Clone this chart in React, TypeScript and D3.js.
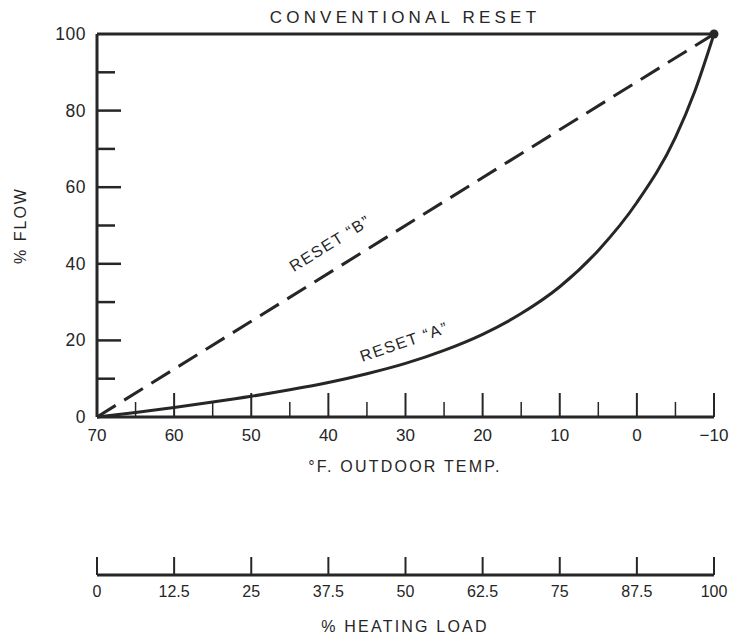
import { useEffect, useRef } from 'react'
import * as d3 from 'd3'

// Reset curves, % flow vs outdoor temperature (°F)
const tempsA = [70, 65, 60, 55, 50, 45, 40, 35, 30, 25, 20, 15, 10, 5, 0, -5, -7.5, -10]
const flowA = [0, 1.2, 2.5, 3.9, 5.4, 7.1, 9, 11.3, 14, 17.4, 21.6, 27, 34, 43.5, 56, 73, 85, 100]
const tempsB = [70, -10]
const flowB = [0, 100]
const tempsConv = [70, -10]
const flowConv = [100, 100]

const flowTicks = [0, 20, 40, 60, 80, 100]
const flowMinorTicks = [10, 30, 50, 70, 90]
const tempTicks = [70, 60, 50, 40, 30, 20, 10, 0, -10]
const tempMinorTicks = [65, 55, 45, 35, 25, 15, 5, -5]
const loadTicks = [0, 12.5, 25, 37.5, 50, 62.5, 75, 87.5, 100]

const W = 735
const H = 637
const FONT = '"Liberation Sans", Arial, sans-serif'
const INK = '#262626'

export default function App() {
  const svgRef = useRef<SVGSVGElement>(null)

  useEffect(() => {
    if (!svgRef.current) return
    const svg = d3.select(svgRef.current)
    svg.selectAll('*').remove()

    const x = d3.scaleLinear().domain([70, -10]).range([97, 714])
    const y = d3.scaleLinear().domain([0, 100]).range([417, 34])
    const load = d3.scaleLinear().domain([0, 100]).range([97, 714])
    const axisY = 575

    const g = svg.append('g')

    // Title
    g.append('text')
      .attr('x', 405).attr('y', 23)
      .attr('text-anchor', 'middle')
      .attr('font-size', 17).attr('letter-spacing', 4.2)
      .text('CONVENTIONAL RESET')

    // Y axis
    g.append('line')
      .attr('x1', x(70)).attr('x2', x(70))
      .attr('y1', y(100)).attr('y2', y(0))
      .attr('stroke', INK).attr('stroke-width', 3)

    g.selectAll('.ymaj')
      .data(flowTicks.filter(d => d > 0 && d < 100))
      .enter().append('line')
      .attr('x1', x(70)).attr('x2', x(70) + 24)
      .attr('y1', d => y(d)).attr('y2', d => y(d))
      .attr('stroke', INK).attr('stroke-width', 2.5)

    g.selectAll('.ymin')
      .data(flowMinorTicks)
      .enter().append('line')
      .attr('x1', x(70)).attr('x2', x(70) + 18)
      .attr('y1', d => y(d)).attr('y2', d => y(d))
      .attr('stroke', INK).attr('stroke-width', 2.5)

    g.selectAll('.ylab')
      .data(flowTicks)
      .enter().append('text')
      .attr('x', 86).attr('y', d => y(d) + 6)
      .attr('text-anchor', 'end')
      .attr('font-size', 17.5).attr('letter-spacing', 0.5)
      .text(d => d)

    g.append('text')
      .attr('transform', `translate(26, ${y(50)}) rotate(-90)`)
      .attr('text-anchor', 'middle')
      .attr('font-size', 16).attr('letter-spacing', 2)
      .text('% FLOW')

    // X axis (temperature)
    g.append('line')
      .attr('x1', x(70)).attr('x2', x(-10))
      .attr('y1', y(0)).attr('y2', y(0))
      .attr('stroke', INK).attr('stroke-width', 3)

    g.selectAll('.xmaj')
      .data(tempTicks.filter(d => d < 70))
      .enter().append('line')
      .attr('x1', d => x(d)).attr('x2', d => x(d))
      .attr('y1', y(0)).attr('y2', y(0) - 24)
      .attr('stroke', INK).attr('stroke-width', 2)

    g.selectAll('.xmin')
      .data(tempMinorTicks)
      .enter().append('line')
      .attr('x1', d => x(d)).attr('x2', d => x(d))
      .attr('y1', y(0)).attr('y2', y(0) - 15)
      .attr('stroke', INK).attr('stroke-width', 1.5)

    g.selectAll('.xlab')
      .data(tempTicks)
      .enter().append('text')
      .attr('x', d => x(d)).attr('y', y(0) + 24)
      .attr('text-anchor', 'middle')
      .attr('font-size', 17)
      .text(d => (d < 0 ? `\u2212${-d}` : `${d}`))

    g.append('text')
      .attr('x', 405).attr('y', 472)
      .attr('text-anchor', 'middle')
      .attr('font-size', 16).attr('letter-spacing', 2.2)
      .text('°F. OUTDOOR TEMP.')

    // Heating load axis
    g.append('line')
      .attr('x1', load(0)).attr('x2', load(100))
      .attr('y1', axisY).attr('y2', axisY)
      .attr('stroke', INK).attr('stroke-width', 3)

    g.selectAll('.lt')
      .data(loadTicks)
      .enter().append('line')
      .attr('x1', d => load(d)).attr('x2', d => load(d))
      .attr('y1', axisY).attr('y2', axisY - 18)
      .attr('stroke', INK).attr('stroke-width', 2)

    g.selectAll('.ll')
      .data(loadTicks)
      .enter().append('text')
      .attr('x', d => load(d)).attr('y', axisY + 22)
      .attr('text-anchor', 'middle')
      .attr('font-size', 16)
      .text(d => d)

    g.append('text')
      .attr('x', 405).attr('y', 632)
      .attr('text-anchor', 'middle')
      .attr('font-size', 16).attr('letter-spacing', 2.2)
      .text('% HEATING LOAD')

    // Lines
    const line = d3.line<[number, number]>()
      .x(d => x(d[0]))
      .y(d => y(d[1]))

    g.append('path')
      .datum(tempsConv.map((t, i) => [t, flowConv[i]] as [number, number]))
      .attr('d', line)
      .attr('fill', 'none').attr('stroke', INK).attr('stroke-width', 3)

    g.append('path')
      .datum(tempsB.map((t, i) => [t, flowB[i]] as [number, number]))
      .attr('d', line)
      .attr('fill', 'none').attr('stroke', INK).attr('stroke-width', 3)
      .attr('stroke-dasharray', '22 10')

    g.append('path')
      .datum(tempsA.map((t, i) => [t, flowA[i]] as [number, number]))
      .attr('d', line.curve(d3.curveMonotoneX))
      .attr('fill', 'none').attr('stroke', INK).attr('stroke-width', 3)

    g.append('circle')
      .attr('cx', x(-10)).attr('cy', y(100)).attr('r', 4.5)
      .attr('fill', INK)

    // Curve labels
    const angB = (Math.atan2(y(100) - y(0), x(-10) - x(70)) * 180) / Math.PI
    g.append('text')
      .attr('transform', `translate(333, 248) rotate(${angB})`)
      .attr('text-anchor', 'middle')
      .attr('font-size', 16).attr('letter-spacing', 1.5)
      .text('RESET \u201cB\u201d')

    g.append('text')
      .attr('transform', `translate(406, 347) rotate(-19)`)
      .attr('text-anchor', 'middle')
      .attr('font-size', 16).attr('letter-spacing', 1.5)
      .text('RESET \u201cA\u201d')
  }, [])

  return (
    <svg
      ref={svgRef}
      width={W}
      height={H}
      style={{ position: 'absolute', left: 0, top: 0, background: '#fff', fontFamily: FONT, fill: INK }}
    />
  )
}
